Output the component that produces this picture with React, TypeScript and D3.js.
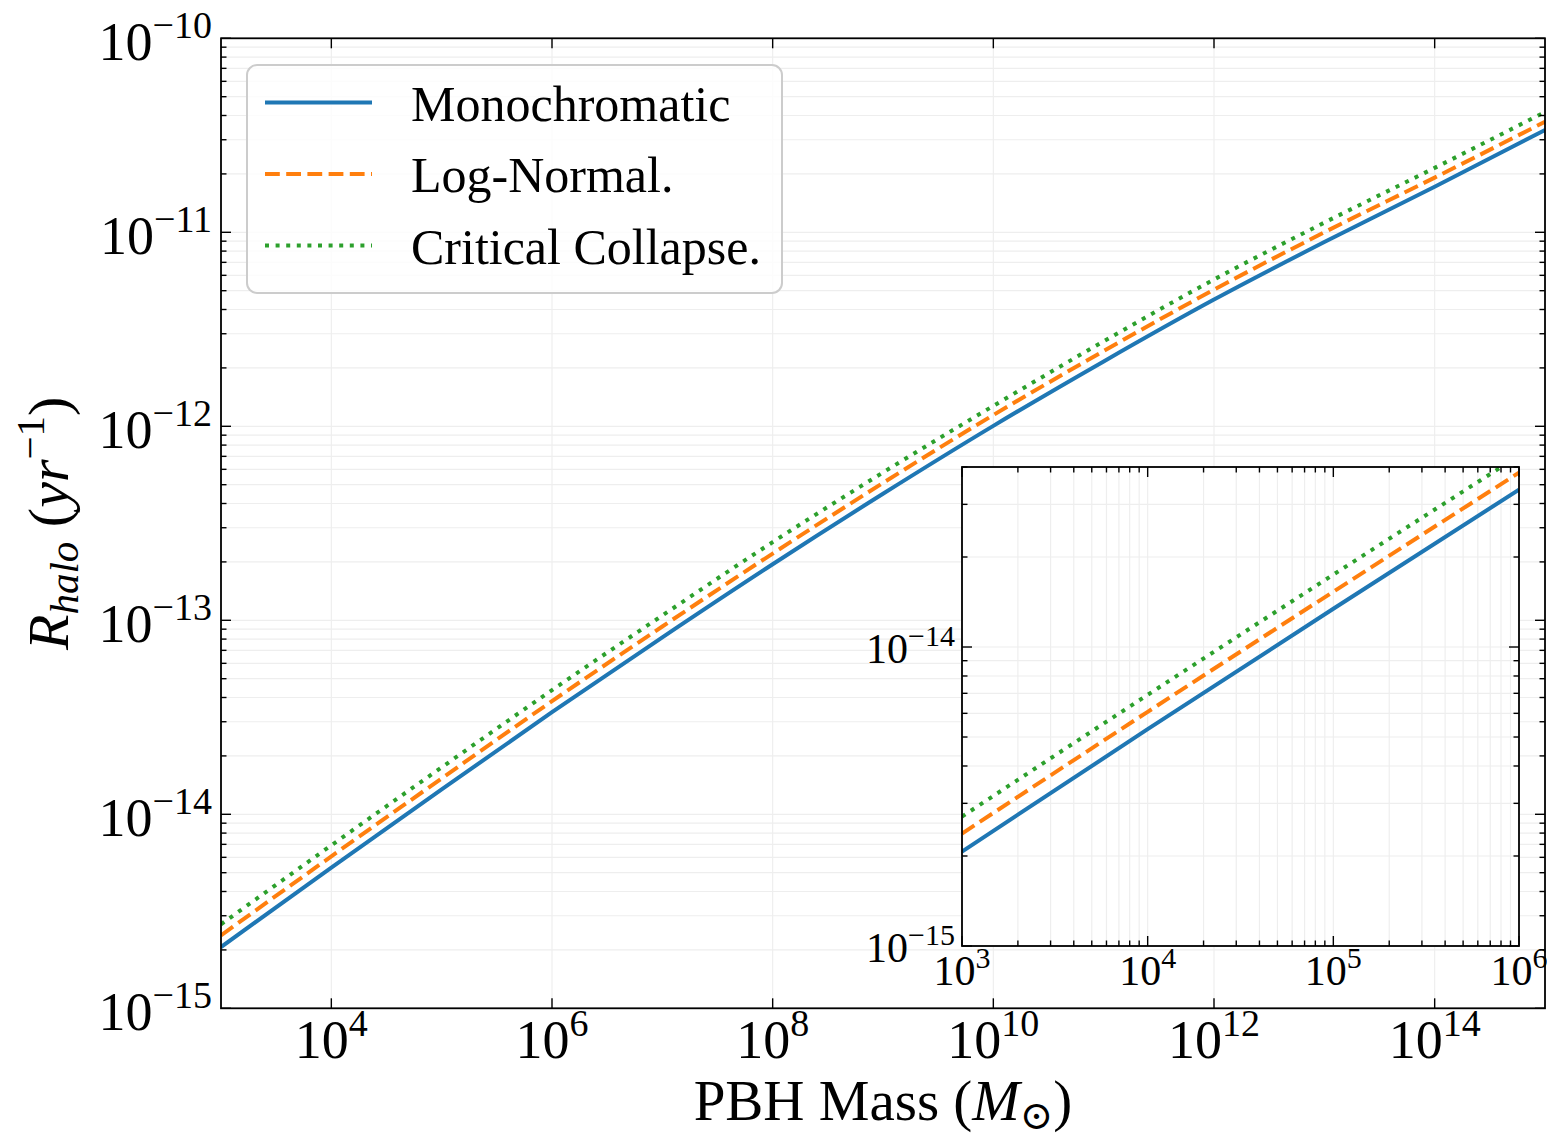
import React from "react";
import * as d3 from "d3";

// ---------- data ----------
const massValues = [1e3, 1e4, 1e5, 1e6, 1e7, 1e8, 1e9, 1e10, 1e11, 1e12, 1e13, 1e14, 1e15];
const monochromatic = [2.07e-15, 5.31e-15, 1.343e-14, 3.36e-14, 8.17e-14, 1.945e-13, 4.49e-13, 1.005e-12, 2.16e-12, 4.5e-12, 8.91e-12, 1.718e-11, 3.365e-11];
const logNormal = [2.377e-15, 6.07e-15, 1.531e-14, 3.83e-14, 9.29e-14, 2.208e-13, 5.105e-13, 1.143e-12, 2.443e-12, 5.06e-12, 1.0e-11, 1.914e-11, 3.715e-11];
const criticalCollapse = [2.71e-15, 6.92e-15, 1.746e-14, 4.365e-14, 1.059e-13, 2.529e-13, 5.78e-13, 1.274e-12, 2.742e-12, 5.71e-12, 1.122e-11, 2.148e-11, 4.169e-11];
const seriesNames = ["Monochromatic", "Log-Normal.", "Critical Collapse."];
const seriesColors = ["#1f77b4", "#ff7f0e", "#2ca02c"];

const mainXTicks = [1e4, 1e6, 1e8, 1e10, 1e12, 1e14];
const mainXTickExps = ["4", "6", "8", "10", "12", "14"];
const mainYTicks = [1e-15, 1e-14, 1e-13, 1e-12, 1e-11, 1e-10];
const mainYTickExps = ["\u221215", "\u221214", "\u221213", "\u221212", "\u221211", "\u221210"];
const insetXTicks = [1e3, 1e4, 1e5, 1e6];
const insetXTickExps = ["3", "4", "5", "6"];
const insetYTicks = [1e-15, 1e-14];
const insetYTickExps = ["\u221215", "\u221214"];

// ---------- layout ----------
const W = 1547;
const H = 1138;
const M = { left: 221, right: 1545, top: 38.3, bottom: 1008.3 };
const I = { left: 962, right: 1519, top: 467, bottom: 946 };
const FONT = "'Liberation Serif', 'DejaVu Serif', serif";
const LW = 4;
const dashes = [null, "14.8 6.4", "4 6.6"];

function minorsBetween(lo: number, hi: number) {
  const out: number[] = [];
  for (let e = Math.floor(Math.log10(lo)); e < Math.ceil(Math.log10(hi)); e++) {
    for (let k = 1; k <= 9; k++) {
      const v = k * Math.pow(10, e);
      if (v >= lo * 0.999 && v <= hi * 1.001) out.push(v);
    }
  }
  return out;
}

function PowLabel({ x, y, exp, size, sup, anchor, raise }: any) {
  return (
    <text x={x} y={y} fontFamily={FONT} fontSize={size} textAnchor={anchor} fill="#000">
      10
      <tspan fontSize={sup} dy={-raise}>{exp}</tspan>
    </text>
  );
}

export default function App() {
  const x = d3.scaleLog().domain([1e3, 1e15]).range([M.left, M.right]);
  const y = d3.scaleLog().domain([1e-15, 1e-10]).range([M.bottom, M.top]);
  const xi = d3.scaleLog().domain([1e3, 1e6]).range([I.left, I.right]);
  const yi = d3.scaleLog().domain([1e-15, 4e-14]).range([I.bottom, I.top]);

  const series = [monochromatic, logNormal, criticalCollapse];

  const mainLine = d3
    .line<number>()
    .x((_, i) => x(massValues[i]))
    .y((d) => y(d))
    .curve(d3.curveMonotoneX);
  const insetLine = d3
    .line<number>()
    .x((_, i) => xi(massValues[i]))
    .y((d) => yi(d))
    .curve(d3.curveMonotoneX);

  const mainYMinor = minorsBetween(1e-15, 1e-10).filter((v) => !mainYTicks.some((t) => Math.abs(t - v) / t < 1e-6));
  const mainYAll = minorsBetween(1e-15, 1e-10);
  const insetXMinor = minorsBetween(1e3, 1e6).filter((v) => !insetXTicks.some((t) => Math.abs(t - v) / t < 1e-6));
  const insetXAll = minorsBetween(1e3, 1e6);
  const insetYAll = minorsBetween(1e-15, 4e-14);
  const insetYMinor = insetYAll.filter((v) => !insetYTicks.some((t) => Math.abs(t - v) / t < 1e-6));

  const gridColor = "#eeeeee";
  const tickW = 1.4;

  return (
    <svg
      width={W}
      height={H}
      viewBox={`0 0 ${W} ${H}`}
      style={{ position: "absolute", left: 0, top: 0, background: "#fff" }}
    >
      <defs>
        <clipPath id="mainClip">
          <rect x={M.left} y={M.top} width={M.right - M.left} height={M.bottom - M.top} />
        </clipPath>
        <clipPath id="insetClip">
          <rect x={I.left} y={I.top} width={I.right - I.left} height={I.bottom - I.top} />
        </clipPath>
      </defs>
      <rect x={0} y={0} width={W} height={H} fill="#fff" />

      {/* main grid */}
      <g stroke={gridColor} strokeWidth={1.2}>
        {mainXTicks.map((t, i) => (
          <line key={"gx" + i} x1={x(t)} x2={x(t)} y1={M.top} y2={M.bottom} />
        ))}
        {mainYAll.map((t, i) => (
          <line key={"gy" + i} x1={M.left} x2={M.right} y1={y(t)} y2={y(t)} />
        ))}
      </g>

      {/* main series */}
      <g clipPath="url(#mainClip)" fill="none">
        {series.map((s, i) => (
          <path
            key={"s" + i}
            d={mainLine(s) || ""}
            stroke={seriesColors[i]}
            strokeWidth={LW}
            strokeDasharray={dashes[i] || undefined}
            strokeLinecap="butt"
          />
        ))}
      </g>

      {/* main ticks */}
      <g stroke="#000" strokeWidth={tickW}>
        {mainXTicks.map((t, i) => (
          <g key={"tx" + i}>
            <line x1={x(t)} x2={x(t)} y1={M.bottom} y2={M.bottom - 10} />
            <line x1={x(t)} x2={x(t)} y1={M.top} y2={M.top + 10} />
          </g>
        ))}
        {mainYTicks.map((t, i) => (
          <g key={"ty" + i}>
            <line x1={M.left} x2={M.left + 10} y1={y(t)} y2={y(t)} />
            <line x1={M.right} x2={M.right - 10} y1={y(t)} y2={y(t)} />
          </g>
        ))}
        {mainYMinor.map((t, i) => (
          <g key={"tym" + i}>
            <line x1={M.left} x2={M.left + 5.5} y1={y(t)} y2={y(t)} />
            <line x1={M.right} x2={M.right - 5.5} y1={y(t)} y2={y(t)} />
          </g>
        ))}
      </g>
      <rect x={M.left} y={M.top} width={M.right - M.left} height={M.bottom - M.top} fill="none" stroke="#000" strokeWidth={1.8} />

      {/* main tick labels */}
      {mainXTicks.map((t, i) => (
        <PowLabel key={"lx" + i} x={x(t)} y={M.bottom + 50} exp={mainXTickExps[i]} size={54} sup={38} anchor="middle" raise={22} />
      ))}
      {mainYTicks.map((t, i) => (
        <PowLabel key={"ly" + i} x={M.left - 9} y={y(t) + 22} exp={mainYTickExps[i]} size={54} sup={38} anchor="end" raise={22} />
      ))}

      {/* axis labels */}
      <text x={(M.left + M.right) / 2} y={1120} fontFamily={FONT} fontSize={57} textAnchor="middle" fill="#000">
        PBH Mass (<tspan fontStyle="italic">M</tspan>
        <tspan fontSize={40} dy={9}>{"\u2299"}</tspan>
        <tspan dy={-9}>)</tspan>
      </text>
      <text transform={`translate(68, ${(M.top + M.bottom) / 2}) rotate(-90)`} fontFamily={FONT} fontSize={58} textAnchor="middle" fill="#000">
        <tspan fontStyle="italic">R</tspan>
        <tspan fontStyle="italic" fontSize={41} dy={10}>halo</tspan>
        <tspan dy={-10}>{" ("}</tspan>
        <tspan fontStyle="italic">yr</tspan>
        <tspan fontSize={41} dy={-24}>{"\u22121"}</tspan>
        <tspan dy={24}>)</tspan>
      </text>

      {/* legend */}
      <g>
        <rect x={247} y={65} width={535} height={228} rx={10} ry={10} fill="#fff" fillOpacity={0.8} stroke="#cccccc" strokeWidth={2} />
        {seriesNames.map((n, i) => {
          const ly = 102.5 + i * 71.5;
          return (
            <g key={"lg" + i}>
              <line x1={265} x2={372} y1={ly} y2={ly} stroke={seriesColors[i]} strokeWidth={LW} strokeDasharray={dashes[i] || undefined} />
              <text x={411} y={ly + 18} fontFamily={FONT} fontSize={50} fill="#000">
                {n}
              </text>
            </g>
          );
        })}
      </g>

      {/* inset */}
      <rect x={I.left} y={I.top} width={I.right - I.left} height={I.bottom - I.top} fill="#fff" />
      <g stroke={gridColor} strokeWidth={1.2}>
        {insetXAll.map((t, i) => (
          <line key={"igx" + i} x1={xi(t)} x2={xi(t)} y1={I.top} y2={I.bottom} />
        ))}
        {insetYAll.map((t, i) => (
          <line key={"igy" + i} x1={I.left} x2={I.right} y1={yi(t)} y2={yi(t)} />
        ))}
      </g>
      <g clipPath="url(#insetClip)" fill="none">
        {series.map((s, i) => (
          <path
            key={"is" + i}
            d={insetLine(s.slice(0, 4)) || ""}
            stroke={seriesColors[i]}
            strokeWidth={LW}
            strokeDasharray={dashes[i] || undefined}
            strokeLinecap="butt"
          />
        ))}
      </g>
      <g stroke="#000" strokeWidth={tickW}>
        {insetXTicks.map((t, i) => (
          <g key={"itx" + i}>
            <line x1={xi(t)} x2={xi(t)} y1={I.bottom} y2={I.bottom - 10} />
            <line x1={xi(t)} x2={xi(t)} y1={I.top} y2={I.top + 10} />
          </g>
        ))}
        {insetXMinor.map((t, i) => (
          <g key={"itxm" + i}>
            <line x1={xi(t)} x2={xi(t)} y1={I.bottom} y2={I.bottom - 5.5} />
            <line x1={xi(t)} x2={xi(t)} y1={I.top} y2={I.top + 5.5} />
          </g>
        ))}
        {insetYTicks.map((t, i) => (
          <g key={"ity" + i}>
            <line x1={I.left} x2={I.left + 10} y1={yi(t)} y2={yi(t)} />
            <line x1={I.right} x2={I.right - 10} y1={yi(t)} y2={yi(t)} />
          </g>
        ))}
        {insetYMinor.map((t, i) => (
          <g key={"itym" + i}>
            <line x1={I.left} x2={I.left + 5.5} y1={yi(t)} y2={yi(t)} />
            <line x1={I.right} x2={I.right - 5.5} y1={yi(t)} y2={yi(t)} />
          </g>
        ))}
      </g>
      <rect x={I.left} y={I.top} width={I.right - I.left} height={I.bottom - I.top} fill="none" stroke="#000" strokeWidth={1.8} />
      {insetXTicks.map((t, i) => (
        <PowLabel key={"ilx" + i} x={xi(t)} y={I.bottom + 39} exp={insetXTickExps[i]} size={42} sup={30} anchor="middle" raise={17} />
      ))}
      {insetYTicks.map((t, i) => (
        <PowLabel key={"ily" + i} x={I.left - 7} y={yi(t) + 16} exp={insetYTickExps[i]} size={42} sup={30} anchor="end" raise={17} />
      ))}
    </svg>
  );
}
